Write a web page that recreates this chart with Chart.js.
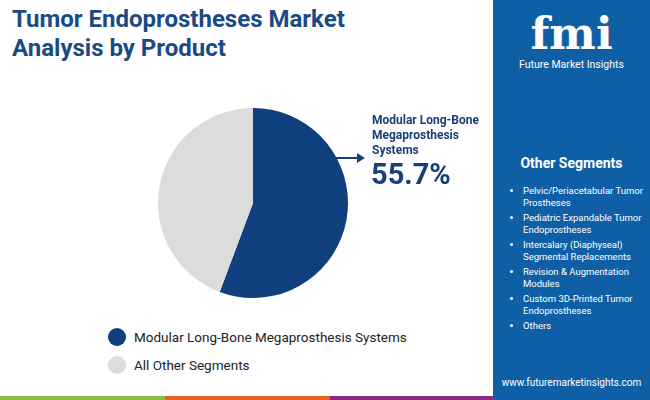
<!DOCTYPE html>
<html>
<head>
<meta charset="utf-8">
<script src="https://cdn.jsdelivr.net/npm/chart.js@4"></script>
<style>
  body { margin: 0; width: 650px; height: 400px; position: relative; overflow: hidden; font-family: Roboto, "Noto Sans", sans-serif; background: #fff; }
  #title { position: absolute; left: 12px; top: 5px; color: #1a4a86; font-size: 24px; font-weight: bold; line-height: 29px; }
  #pie { position: absolute; left: 143px; top: 93px; width: 220px; height: 220px; }
  #callout { position: absolute; left: 372px; top: 113px; color: #173f78; font-weight: bold; font-size: 12px; line-height: 15px; }
  #pct { position: absolute; left: 371px; top: 157px; color: #173f78; font-weight: bold; font-size: 29px; }
  #arrow { position: absolute; left: 335px; top: 153px; width: 30px; height: 10px; }
  #legend { position: absolute; left: 108px; top: 323px; font-size: 13.5px; color: #222; }
  .li { display: flex; align-items: center; height: 28px; }
  .dot { width: 18px; height: 18px; border-radius: 50%; margin-right: 8px; }
  #side { position: absolute; left: 493px; top: 0; width: 157px; height: 400px; background: #0f5fa6; color: #fff; }
  #logo { text-align: center; margin-top: 12px; font-size: 44px; font-weight: bold; font-family: "DejaVu Serif", serif; line-height: 44px; }
  #logosub { text-align: center; font-size: 10.5px; margin-top: 2px; }
  #oshead { margin-top: 84px; text-align: center; font-weight: bold; font-size: 14px; }
  #oslist { margin: 14px 0 0 0; padding-left: 30px; font-size: 9.5px; line-height: 12px; }
  #oslist li { margin-bottom: 3px; }
  #url { position: absolute; bottom: 12px; width: 100%; text-align: center; font-size: 10px; }
  .stripe { position: absolute; top: 396px; height: 4px; }
</style>
</head>
<body>
<div id="title">Tumor Endoprostheses Market<br>Analysis by Product</div>
<div id="pie"><canvas id="cv"></canvas></div>
<svg id="arrow" viewBox="0 0 30 10"><line x1="0" y1="5" x2="24" y2="5" stroke="#173f78" stroke-width="2"/><polygon points="22,0 30,5 22,10" fill="#173f78"/></svg>
<div id="callout">Modular Long-Bone<br>Megaprosthesis<br>Systems</div>
<div id="pct"></div>
<div id="legend"></div>
<div id="side">
  <div id="logo">fmi</div>
  <div id="logosub">Future Market Insights</div>
  <div id="oshead">Other Segments</div>
  <ul id="oslist"></ul>
  <div id="url">www.futuremarketinsights.com</div>
</div>
<div class="stripe" style="left:0;width:165px;background:#8bbd3f"></div>
<div class="stripe" style="left:165px;width:165px;background:#e4611f"></div>
<div class="stripe" style="left:330px;width:163px;background:#8a2a88"></div>
<script>
const labels = ['Modular Long-Bone Megaprosthesis Systems', 'All Other Segments']
const shares = [55.7, 44.3]
const colors = ['#0f3f7c', '#dcdcdc']
const otherSegments = [
  'Pelvic/Periacetabular Tumor Prostheses',
  'Pediatric Expandable Tumor Endoprostheses',
  'Intercalary (Diaphyseal) Segmental Replacements',
  'Revision & Augmentation Modules',
  'Custom 3D-Printed Tumor Endoprostheses',
  'Others'
]

document.getElementById('pct').textContent = shares[0] + '%'
document.getElementById('legend').innerHTML = labels.map((l, i) =>
  '<div class="li"><span class="dot" style="background:' + colors[i] + '"></span>' + l + '</div>').join('')
document.getElementById('oslist').innerHTML = otherSegments.map(s => '<li>' + s + '</li>').join('')

new Chart(document.getElementById('cv').getContext('2d'), {
  type: 'pie',
  data: { labels: labels, datasets: [{ data: shares, backgroundColor: colors, borderWidth: 0 }] },
  options: {
    responsive: true,
    maintainAspectRatio: false,
    animation: false,
    layout: { padding: 15 },
    plugins: { legend: { display: false }, tooltip: { enabled: false } }
  }
})
</script>
</body>
</html>
